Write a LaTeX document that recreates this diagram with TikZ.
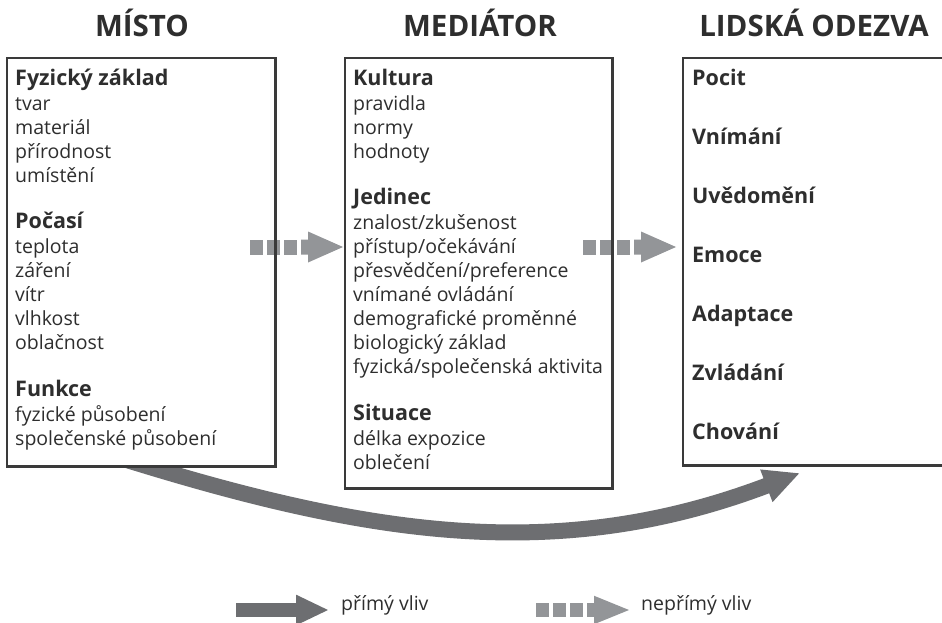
\documentclass[tikz,border=0pt]{standalone}
\usepackage{fontspec}
\setmainfont{Open Sans}
\usetikzlibrary{arrows.meta}
\definecolor{txt}{HTML}{2E2E2E}
\definecolor{boxc}{HTML}{3A3A3A}
\definecolor{solidc}{HTML}{6D6E71}
\definecolor{dashc}{HTML}{939598}
\tikzset{
  boxfill/.style={fill=white, draw=none, anchor=north west, inner sep=0pt},
  boxline/.style={draw=boxc, line width=2.5pt},
  hd/.style={font=\bfseries\fontsize{21.5}{25}\selectfont, text=txt, anchor=mid west, inner sep=0pt},
  itm/.style={font=\fontsize{19.5}{25}\selectfont, text=txt, anchor=mid west, inner sep=0pt},
  ttl/.style={font=\bfseries\fontsize{29.5}{34}\selectfont, text=txt, anchor=base, inner sep=0pt},
  solidarrow/.style={draw=solidc, line width=16pt, -{Triangle[length=36pt,width=32pt]}},
  dasharrow/.pic={
    \fill[dashc] (0,-7.5) rectangle (13,7.5);
    \fill[dashc] (17,-7.5) rectangle (30,7.5);
    \fill[dashc] (34,-7.5) rectangle (47,7.5);
    \fill[dashc] (51,-7.5) -- (58,-7.5) -- (58,-15.5) -- (93,0) -- (58,15.5) -- (58,7.5) -- (51,7.5) -- cycle;
  }
}
\begin{document}
\begin{tikzpicture}[x=1pt,y=-1pt]
\clip (0,0) rectangle (942,623);
\useasboundingbox (0,0) rectangle (942,623);
\fill[white] (0,0) rectangle (942,623);

% titles
\node[ttl] (h1) at (142,37) {MÍSTO};
\node[ttl] (h2) at (480,37) {MEDIÁTOR};
\node[ttl] (h3) at (814,37) {LIDSKÁ ODEZVA};

% curved direct influence arrow (under boxes)
\coordinate (cs) at (95,450);
\coordinate (ce) at (800,473);
\draw[solidarrow] (cs) .. controls (355,533) and (550,568) .. (ce);

% box fills
\node[boxfill, minimum width=268pt, minimum height=408pt] (L) at (7,58) {};
\node[boxfill, minimum width=267pt, minimum height=430pt] (M) at (345,58) {};
\node[boxfill, minimum width=277pt, minimum height=407pt] (R) at (683,58) {};

% indirect arrows
\path (250,247) pic {dasharrow};
\path (583,247) pic {dasharrow};

% box borders
\draw[boxline] (L.north west) rectangle (L.south east);
\draw[boxline] (M.north west) rectangle (M.south east);
\draw[boxline] (R.north west) rectangle (R.south east);

% left box text
\node[hd]  (l1)  at (15,83)  {Fyzický základ};
\node[itm] (l2)  at (15,108) {tvar};
\node[itm] (l3)  at (15,132) {materiál};
\node[itm] (l4)  at (15,156) {přírodnost};
\node[itm] (l5)  at (15,180) {umístění};
\node[hd]  (l6)  at (15,226) {Počasí};
\node[itm] (l7)  at (15,251) {teplota};
\node[itm] (l8)  at (15,275) {záření};
\node[itm] (l9)  at (15,299) {vítr};
\node[itm] (l10) at (15,323) {vlhkost};
\node[itm] (l11) at (15,347) {oblačnost};
\node[hd]  (l12) at (15,394) {Funkce};
\node[itm] (l13) at (15,419) {fyzické působení};
\node[itm] (l14) at (15,443) {společenské působení};

% middle box text
\node[hd]  (m1)  at (353,83)  {Kultura};
\node[itm] (m2)  at (353,108) {pravidla};
\node[itm] (m3)  at (353,132) {normy};
\node[itm] (m4)  at (353,156) {hodnoty};
\node[hd]  (m5)  at (353,202) {Jedinec};
\node[itm] (m6)  at (353,227) {znalost/zkušenost};
\node[itm] (m7)  at (353,251) {přístup/očekávání};
\node[itm] (m8)  at (353,275) {přesvědčení/preference};
\node[itm] (m9)  at (353,299) {vnímané ovládání};
\node[itm] (m10) at (353,323) {demografické proměnné};
\node[itm] (m11) at (353,347) {biologický základ};
\node[itm] (m12) at (353,371) {fyzická/společenská aktivita};
\node[hd]  (m13) at (353,418) {Situace};
\node[itm] (m14) at (353,443) {délka expozice};
\node[itm] (m15) at (353,467) {oblečení};

% right box text
\node[hd] (r1) at (692,83)  {Pocit};
\node[hd] (r2) at (692,142) {Vnímání};
\node[hd] (r3) at (692,201) {Uvědomění};
\node[hd] (r4) at (692,260) {Emoce};
\node[hd] (r5) at (692,319) {Adaptace};
\node[hd] (r6) at (692,378) {Zvládání};
\node[hd] (r7) at (692,437) {Chování};

% legend
\coordinate (la) at (236,610);
\coordinate (lb) at (329,610);
\draw[draw=solidc, line width=14pt, -{Triangle[length=33pt,width=28pt]}] (la) -- (lb);
\node[itm] (lt1) at (341,608) {přímý vliv};
\path (536,610) pic[yscale=0.92] {dasharrow};
\node[itm] (lt2) at (641,608) {nepřímý vliv};
\end{tikzpicture}
\end{document}
